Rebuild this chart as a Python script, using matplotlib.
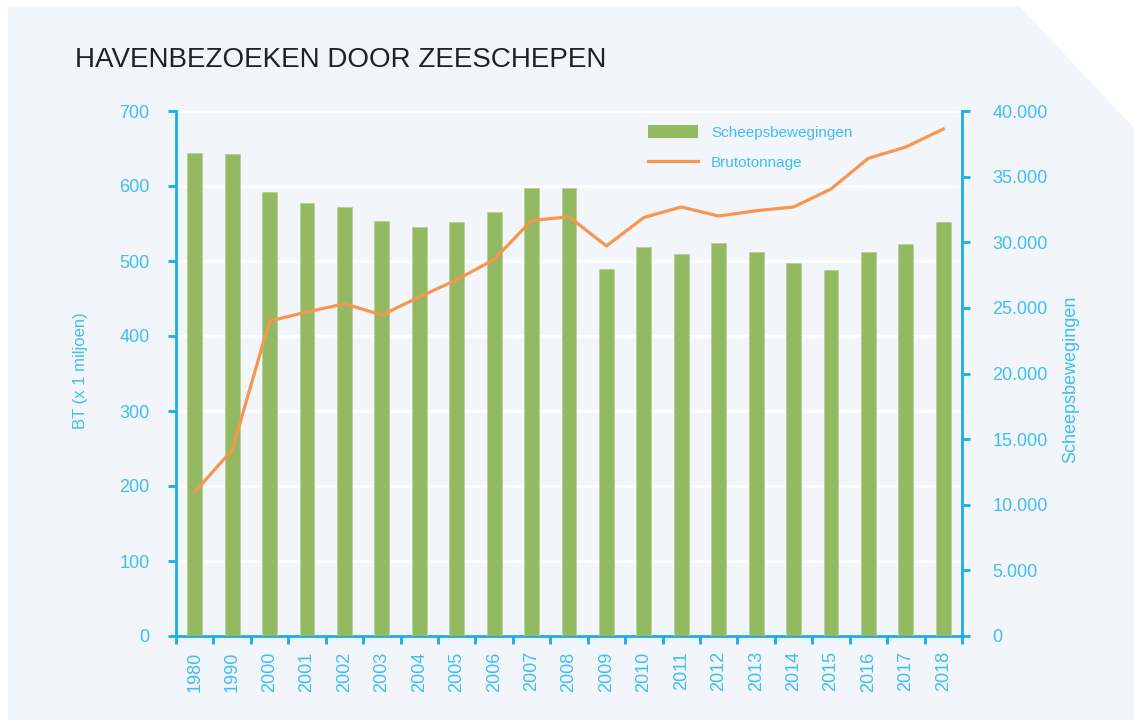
import numpy as np
import matplotlib.pyplot as plt
from matplotlib.patches import Polygon, Patch
from matplotlib.lines import Line2D
from matplotlib.ticker import FuncFormatter

plt.rcParams['font.family'] = ['Liberation Sans', 'DejaVu Sans']

# data
years = ['1980', '1990', '2000', '2001', '2002', '2003', '2004', '2005', '2006', '2007',
         '2008', '2009', '2010', '2011', '2012', '2013', '2014', '2015', '2016', '2017', '2018']
scheepsbewegingen = [36800, 36730, 33830, 32970, 32690, 31600, 31140, 31510, 32290, 34110,
                     34170, 27940, 29660, 29140, 29910, 29230, 28400, 27860, 29260, 29830, 31570]
brutotonnage = [192, 248, 420, 432, 443, 428, 452, 475, 502, 554,
                559, 520, 558, 572, 560, 567, 572, 596, 637, 652, 676]

axis_col = '#1aaee8'
label_col = '#3ebff0'
bar_col = '#93ba63'
line_col = '#f7964f'
panel_col = '#f2f5fa'

W, H = 1134, 722
fig = plt.figure(figsize=(W / 100, H / 100), dpi=100)
fig.patch.set_facecolor('white')

# light panel with cut top-right corner
panel = Polygon([(8 / W, 1 - 7 / H), (1020 / W, 1 - 7 / H), (1, 1 - 128 / H),
                 (1, 1 - 720 / H), (8 / W, 1 - 720 / H)],
                closed=True, transform=fig.transFigure, facecolor=panel_col,
                edgecolor='none', zorder=-5)
fig.patches.append(panel)

fig.text(75 / W, 1 - 60 / H, 'HAVENBEZOEKEN DOOR ZEESCHEPEN', fontsize=20,
         color='#222222', va='center', ha='left')

rect = [176 / W, 1 - 636 / H, (962 - 176) / W, (636 - 111) / H]
ax = fig.add_axes(rect)
ax.set_facecolor('none')
x = np.arange(len(years))

# left axis (BT) with grid
ax.set_ylim(0, 700)
ax.set_xlim(-0.5, len(years) - 0.5)
ax.set_yticks(np.arange(0, 701, 100))
ax.yaxis.grid(True, color='white', linewidth=2.2)
ax.set_axisbelow(True)
for s in ['top', 'right']:
    ax.spines[s].set_visible(False)
for s in ['left', 'bottom']:
    ax.spines[s].set_color(axis_col)
    ax.spines[s].set_linewidth(2)
ax.tick_params(axis='y', colors=axis_col, labelcolor=label_col, length=6, width=2,
               pad=13, labelsize=13)
ax.set_xticks(np.arange(-0.5, len(years), 1))
ax.set_xticklabels([])
ax.set_xticks(x, minor=True)
ax.set_xticklabels(years, minor=True, rotation=90)
ax.tick_params(axis='x', which='major', colors=axis_col, length=6, width=2)
ax.tick_params(axis='x', which='minor', length=0, pad=11, labelsize=13, labelcolor=label_col)

# bars on right axis
axb = ax.twinx()
axb.bar(x, scheepsbewegingen, width=0.4, color=bar_col, edgecolor='#b5d197', linewidth=0.6)
axb.set_ylim(0, 40000)
axb.set_yticks(np.arange(0, 40001, 5000))
axb.yaxis.set_major_formatter(FuncFormatter(lambda v, p: f'{int(v):,}'.replace(',', '.')))
for s in ['top', 'left', 'bottom']:
    axb.spines[s].set_visible(False)
axb.spines['right'].set_color(axis_col)
axb.spines['right'].set_linewidth(2)
axb.tick_params(axis='y', colors=axis_col, labelcolor=label_col, length=6, width=2,
                pad=16, labelsize=13)

# line on its own twin with BT scale
axl = ax.twinx()
axl.plot(x, brutotonnage, color=line_col, linewidth=2.3, solid_joinstyle='round')
axl.set_ylim(0, 700)
axl.axis('off')

fig.text(80 / W, 1 - 371 / H, 'BT (x 1 miljoen)', rotation=90, fontsize=12,
         color=label_col, ha='center', va='center')
fig.text(1071 / W, 1 - 379 / H, 'Scheepsbewegingen', rotation=90, fontsize=13,
         color=label_col, ha='center', va='center')

handles = [Patch(facecolor=bar_col, edgecolor='none'),
           Line2D([0], [0], color=line_col, linewidth=2.3)]
fig.legend(handles, ['Scheepsbewegingen', 'Brutotonnage'], loc='upper left',
           bbox_to_anchor=(634 / W, 1 - 111 / H), frameon=False, fontsize=11,
           labelcolor=label_col, handlelength=3.3, handleheight=1.0,
           handletextpad=0.85, labelspacing=1.0)

fig.savefig('out.png', dpi=100, facecolor='white')
